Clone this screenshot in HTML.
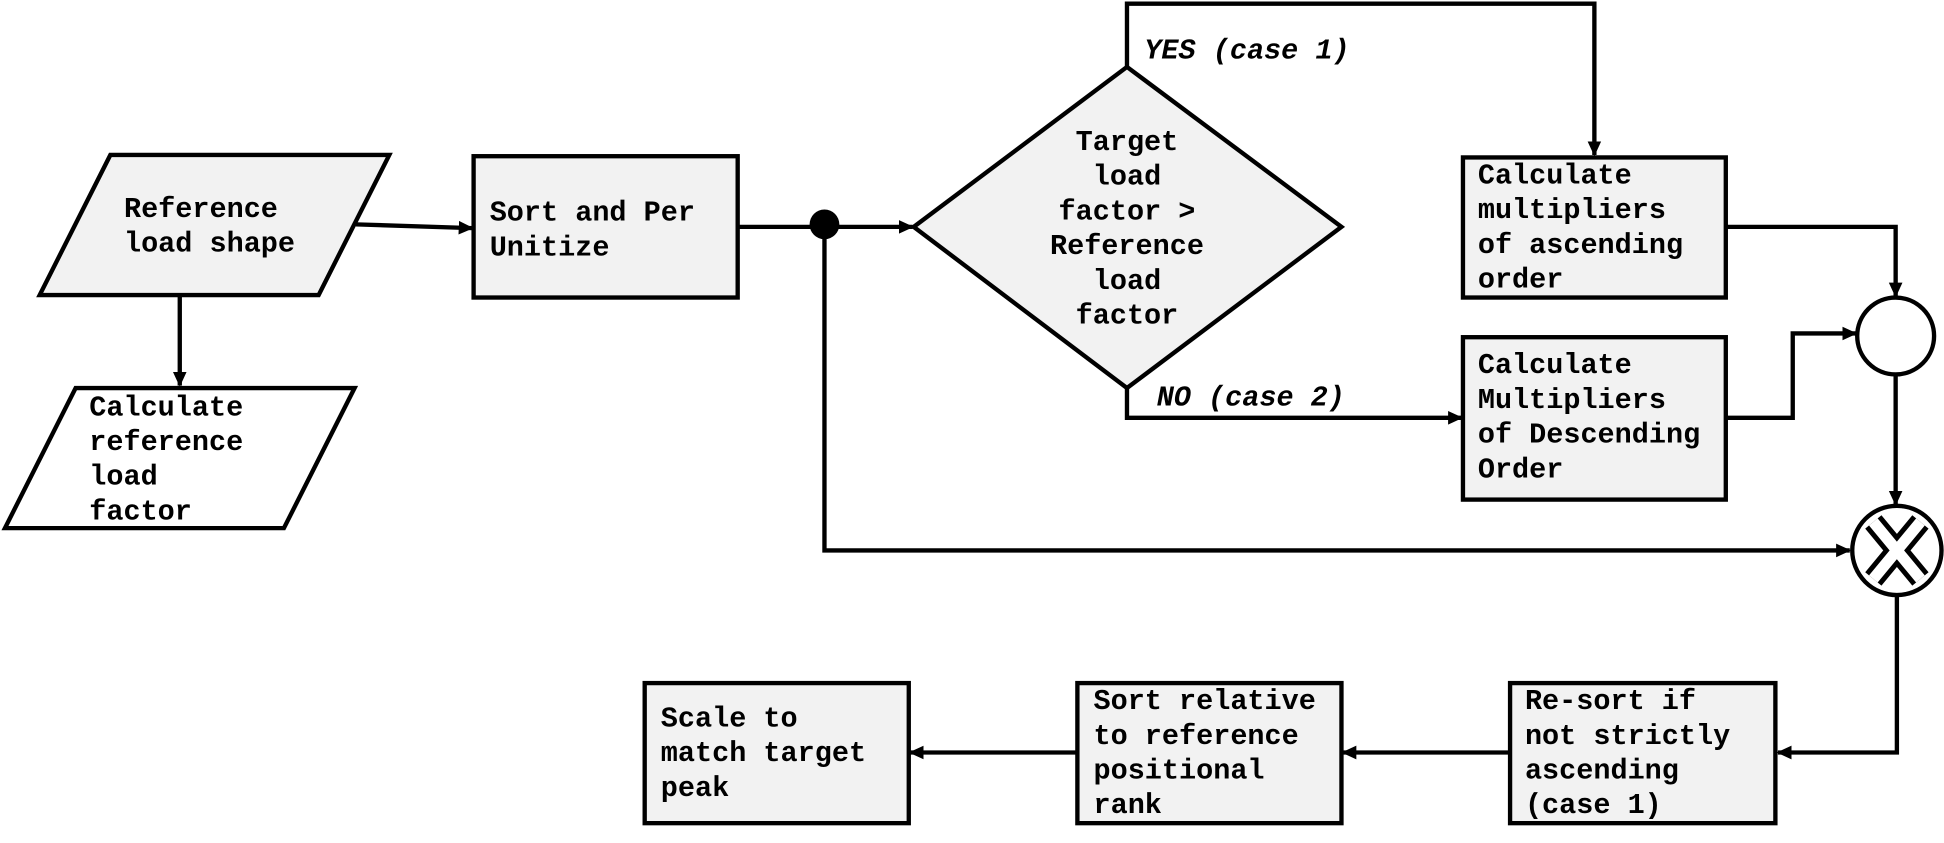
<!DOCTYPE html>
<html><head><meta charset="utf-8"><style>
html,body{margin:0;padding:0;background:#fff;}
svg{display:block;}
text{font-family:"Liberation Mono",monospace;font-weight:bold;font-size:23px;fill:#000;}
</style></head><body>
<svg width="1944" height="843" viewBox="0 0 1568 680" preserveAspectRatio="none" xmlns="http://www.w3.org/2000/svg">
<defs><marker id="a" markerWidth="12" markerHeight="12" refX="11" refY="6" orient="auto" markerUnits="userSpaceOnUse"><path d="M0,0.5 L12,6 L0,11.5 z" fill="#000"/></marker></defs>
<g stroke="#000" stroke-width="3.5" fill="none">
<polygon points="32,238 89,125 314,125 257,238" fill="#f2f2f2"/>
<polygon points="4,426 61,313 286,313 229,426" fill="#fff"/>
<rect x="382" y="126" width="213" height="114" fill="#f2f2f2"/>
<polygon points="737,183 909,54 1082,183 909,313" fill="#f2f2f2"/>
<rect x="1180" y="127" width="212" height="113" fill="#f2f2f2"/>
<rect x="1180" y="272" width="212" height="131" fill="#f2f2f2"/>
<rect x="1218" y="551" width="214" height="113" fill="#f2f2f2"/>
<rect x="869" y="551" width="213" height="113" fill="#f2f2f2"/>
<rect x="520" y="551" width="213" height="113" fill="#f2f2f2"/>
<circle cx="1529" cy="271" r="31" fill="#fff"/>
<circle cx="1530" cy="444" r="36" fill="#fff"/>
<line x1="287" y1="181" x2="381" y2="184" marker-end="url(#a)"/>
<line x1="145" y1="238" x2="145" y2="311" marker-end="url(#a)"/>
<line x1="595" y1="183" x2="736" y2="183" marker-end="url(#a)"/>
<polyline points="665,181 665,444 1492,444" marker-end="url(#a)"/>
<polyline points="909,54 909,3 1286,3 1286,125" marker-end="url(#a)"/>
<polyline points="909,313 909,337 1179,337" marker-end="url(#a)"/>
<polyline points="1392,183 1529,183 1529,239" marker-end="url(#a)"/>
<polyline points="1392,337 1446,337 1446,269 1497,269" marker-end="url(#a)"/>
<line x1="1529" y1="302" x2="1529" y2="407" marker-end="url(#a)"/>
<polyline points="1530,481 1530,607 1434,607" marker-end="url(#a)"/>
<line x1="1218" y1="607" x2="1083" y2="607" marker-end="url(#a)"/>
<line x1="869" y1="607" x2="734" y2="607" marker-end="url(#a)"/>
</g>
<circle cx="665" cy="181" r="12" fill="#000"/>
<g stroke-linecap="butt">
<path d="M1511,421 L1549,467 M1549,421 L1511,467" stroke="#000" stroke-width="17"/>
<path d="M1511,421 L1549,467 M1549,421 L1511,467" stroke="#fff" stroke-width="9"/>
</g>
<text x="100" y="175">Reference</text><text x="100" y="203">load shape</text>
<text x="72" y="335">Calculate</text><text x="72" y="363">reference</text><text x="72" y="391">load</text><text x="72" y="419">factor</text>
<text x="395" y="178">Sort and Per</text><text x="395" y="206">Unitize</text>
<g text-anchor="middle"><text x="909" y="121">Target</text><text x="909" y="149">load</text><text x="909" y="177">factor &gt;</text><text x="909" y="205">Reference</text><text x="909" y="233">load</text><text x="909" y="261">factor</text></g>
<text x="923" y="47" style="font-style:italic">YES (case 1)</text>
<text x="933" y="327" style="font-style:italic">NO (case 2)</text>
<text x="1192" y="148">Calculate</text><text x="1192" y="176">multipliers</text><text x="1192" y="204">of ascending</text><text x="1192" y="232">order</text>
<text x="1192" y="301">Calculate</text><text x="1192" y="329">Multipliers</text><text x="1192" y="357">of Descending</text><text x="1192" y="385">Order</text>
<text x="1230" y="572">Re-sort if</text><text x="1230" y="600">not strictly</text><text x="1230" y="628">ascending</text><text x="1230" y="656">(case 1)</text>
<text x="882" y="572">Sort relative</text><text x="882" y="600">to reference</text><text x="882" y="628">positional</text><text x="882" y="656">rank</text>
<text x="533" y="586">Scale to</text><text x="533" y="614">match target</text><text x="533" y="642">peak</text>
</svg>
</body></html>
